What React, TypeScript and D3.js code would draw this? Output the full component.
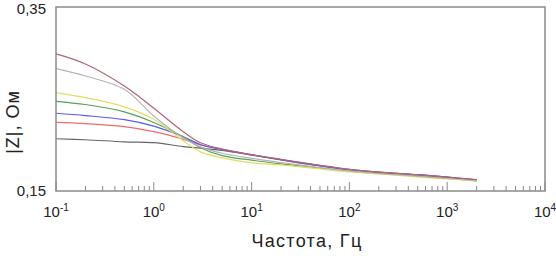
import React from "react";
import * as d3 from "d3";

const freqs = [0.1, 0.2, 0.5, 1, 2, 3, 5, 10, 20, 50, 100, 200, 500, 1000, 2000];
const brown = [0.299, 0.288, 0.264, 0.240, 0.2145, 0.2025, 0.1955, 0.1895, 0.1845, 0.178, 0.1735, 0.1705, 0.1676, 0.165, 0.1622];
const lightGray = [0.283, 0.275, 0.2605, 0.2315, 0.2075, 0.198, 0.191, 0.1855, 0.181, 0.1755, 0.1718, 0.169, 0.1662, 0.1638, 0.1612];
const yellow = [0.257, 0.2515, 0.2415, 0.228, 0.2045, 0.1925, 0.186, 0.1806, 0.1784, 0.174, 0.1708, 0.1686, 0.1653, 0.1631, 0.1609];
const green = [0.2475, 0.244, 0.236, 0.2245, 0.209, 0.197, 0.1885, 0.1835, 0.1795, 0.175, 0.1715, 0.1688, 0.166, 0.1636, 0.161];
const blue = [0.2345, 0.232, 0.2275, 0.2205, 0.209, 0.2005, 0.195, 0.1893, 0.184, 0.1775, 0.1732, 0.1703, 0.1677, 0.165, 0.1622];
const red = [0.2245, 0.2232, 0.22, 0.2145, 0.2062, 0.2, 0.1952, 0.1895, 0.1842, 0.1777, 0.1735, 0.1705, 0.1678, 0.1652, 0.1624];
const darkGray = [0.2068, 0.2057, 0.2035, 0.2025, 0.1983, 0.1965, 0.1942, 0.189, 0.1838, 0.1772, 0.173, 0.17, 0.1673, 0.1647, 0.162];

const seriesList = [
  { name: "s1", values: darkGray, color: "#666666" },
  { name: "s2", values: red, color: "#f06a6a" },
  { name: "s3", values: blue, color: "#5a5af0" },
  { name: "s4", values: green, color: "#58a058" },
  { name: "s5", values: yellow, color: "#dede62" },
  { name: "s6", values: lightGray, color: "#b4b4b4" },
  { name: "s7", values: brown, color: "#b06670" },
];

const xDecades = [-1, 0, 1, 2, 3, 4];
const yTickLabels = ["0,15", "0,35"];
const yDomain = [0.15, 0.35];

export default function App() {
  const W = 556, H = 256;
  const left = 56, right = 545, top = 7, bottom = 191;
  const x = d3.scaleLog().domain([0.1, 10000]).range([left, right]);
  const y = d3.scaleLinear().domain(yDomain).range([bottom, top]);
  const line = d3
    .line<number>()
    .x((_, i) => x(freqs[i]))
    .y((v) => y(v))
    .curve(d3.curveCatmullRom.alpha(0.5));

  const minorTicks: number[] = [];
  for (let e = -1; e < 4; e++) {
    for (let m = 2; m <= 9; m++) minorTicks.push(m * Math.pow(10, e));
  }
  const font = "'Liberation Sans', Arial, sans-serif";
  const axisColor = "#8a8a8a";

  return (
    <svg width={W} height={H} style={{ position: "absolute", left: 0, top: 0, background: "#fff" }}>
      <rect x={0} y={0} width={W} height={H} fill="#fff" />
      {seriesList.map((s) => (
        <path key={s.name} d={line(s.values) || ""} fill="none" stroke={s.color} strokeWidth={1.2} />
      ))}
      <rect x={left} y={top} width={right - left} height={bottom - top} fill="none" stroke={axisColor} strokeWidth={1.5} />
      {minorTicks.map((t, i) => (
        <line key={"m" + i} x1={x(t)} x2={x(t)} y1={bottom} y2={bottom - 5} stroke={axisColor} strokeWidth={1} />
      ))}
      {xDecades.map((e) => (
        <line key={"M" + e} x1={x(Math.pow(10, e))} x2={x(Math.pow(10, e))} y1={bottom} y2={bottom - 9} stroke={axisColor} strokeWidth={1} />
      ))}
      {xDecades.map((e) => (
        <text key={"l" + e} x={x(Math.pow(10, e))} y={217} textAnchor="middle" fontFamily={font} fontSize={15} fill="#222">
          10
          <tspan dy={-6} fontSize={10}>{e}</tspan>
        </text>
      ))}
      {yTickLabels.map((t, i) => (
        <text key={t} x={46} y={i === 1 ? 14 : y(yDomain[i]) + 5} textAnchor="end" fontFamily={font} fontSize={15} fill="#222">
          {t}
        </text>
      ))}
      <text x={0} y={0} transform="translate(19,122) rotate(-90)" textAnchor="middle" fontFamily={font} fontSize={18} letterSpacing={1} fill="#222">
        |Z|, Ом
      </text>
      <text x={307} y={247} textAnchor="middle" fontFamily={font} fontSize={18} letterSpacing={1.3} fill="#222">
        Частота, Гц
      </text>
    </svg>
  );
}
